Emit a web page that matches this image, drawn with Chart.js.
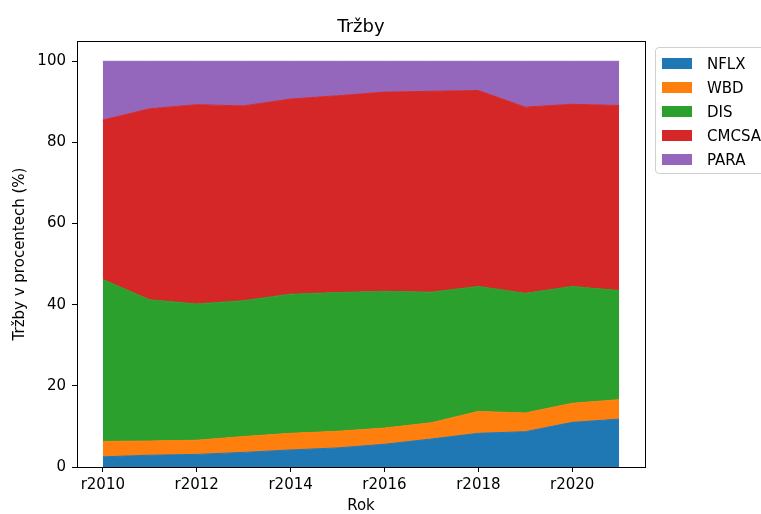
<!DOCTYPE html>
<html>
<head>
<meta charset="utf-8">
<script src="https://cdn.jsdelivr.net/npm/chart.js@4.4.1/dist/chart.umd.min.js"></script>
<style>
  body { margin: 0; background: #fff; overflow: hidden; }
  #wrap { position: relative; width: 761px; height: 514px; overflow: hidden; }
  #legend {
    position: absolute; left: 655px; top: 47px; width: 130px; height: 127px;
    border: 1px solid #d0d0d0; border-radius: 4px; box-sizing: border-box;
    font-family: "DejaVu Sans", sans-serif; font-size: 15px; color: #000;
  }
  .row { position: absolute; left: 0; height: 24px; }
  .sw { position: absolute; left: 6px; width: 30px; height: 11px; }
  .lb { position: absolute; left: 51px; line-height: 16px; white-space: nowrap; }
</style>
</head>
<body>
<div id="wrap">
  <canvas id="AreaChart" width="761" height="514"></canvas>
  <div id="legend"></div>
</div>
<script>
const years = [2010, 2011, 2012, 2013, 2014, 2015, 2016, 2017, 2018, 2019, 2020, 2021];
const names = ["NFLX", "WBD", "DIS", "CMCSA", "PARA"];
const colors = ["#1f77b4", "#ff7f0e", "#2ca02c", "#d62728", "#9467bd"];

// podil na trzbach v %
const nflx  = [2.5, 2.9, 3.1, 3.6, 4.2, 4.7, 5.6, 6.9, 8.3, 8.7, 11.0, 11.8];
const wbd   = [3.8, 3.5, 3.5, 3.9, 4.1, 4.1, 4.0, 4.0, 5.4, 4.6, 4.7, 4.8];
const dis   = [39.9, 34.8, 33.6, 33.5, 34.3, 34.2, 33.7, 32.2, 30.8, 29.5, 28.8, 26.9];
const cmcsa = [39.3, 47.1, 49.1, 48.0, 48.1, 48.5, 49.1, 49.5, 48.3, 45.9, 44.9, 45.6];
const para  = [14.5, 11.7, 10.7, 11.0, 9.3, 8.5, 7.6, 7.4, 7.2, 11.3, 10.6, 10.9];

const xTicks = [2010, 2012, 2014, 2016, 2018, 2020];
const yTicks = [0, 20, 40, 60, 80, 100];

const series = [nflx, wbd, dis, cmcsa, para];
const font = "DejaVu Sans";

const ctx = document.getElementById("AreaChart");

// ramecek kolem grafu + nadpis
const framePlugin = {
  id: "frame",
  afterDraw(chart) {
    const a = chart.chartArea;
    const c = chart.ctx;
    c.save();
    c.strokeStyle = "#000";
    c.lineWidth = 1;
    c.strokeRect(Math.round(a.left) + 0.5, Math.round(a.top) + 0.5,
      Math.round(a.right - a.left), Math.round(a.bottom - a.top));
    c.fillStyle = "#000";
    c.font = "18px '" + font + "'";
    c.textAlign = "center";
    c.textBaseline = "alphabetic";
    c.fillText("Tržby", (a.left + a.right) / 2, 32);
    c.restore();
  }
};

new Chart(ctx, {
  type: "line",
  data: {
    datasets: series.map(function (s, i) {
      return {
        label: names[i],
        data: s.map(function (v, j) { return { x: years[j], y: v }; }),
        backgroundColor: colors[i],
        borderColor: colors[i],
        borderWidth: 1,
        pointRadius: 0,
        tension: 0,
        fill: i === 0 ? "origin" : "-1",
      };
    }),
  },
  options: {
    responsive: false,
    animation: false,
    layout: { padding: { top: 41, right: 116, left: 0, bottom: 0 } },
    plugins: {
      legend: { display: false },
      tooltip: { enabled: false },
    },
    scales: {
      x: {
        type: "linear",
        min: 2009.45,
        max: 2021.55,
        afterBuildTicks: function (scale) {
          scale.ticks = xTicks.map(function (v) { return { value: v }; });
        },
        afterFit: function (scale) { scale.height = 47; },
        ticks: {
          callback: function (v) { return "r" + v; },
          color: "#000",
          font: { family: font, size: 15 },
          padding: 4,
          maxRotation: 0,
        },
        grid: { drawOnChartArea: false, drawTicks: true, tickLength: 5, color: "#000" },
        border: { display: true, color: "#000", width: 1 },
        title: {
          display: true,
          text: "Rok",
          color: "#000",
          font: { family: font, size: 15, lineHeight: 1.0 },
          padding: { top: 0, bottom: 0 },
        },
      },
      y: {
        stacked: true,
        min: 0,
        max: 105,
        afterBuildTicks: function (scale) {
          scale.ticks = yTicks.map(function (v) { return { value: v }; });
        },
        afterFit: function (scale) { scale.width = 77; },
        ticks: {
          color: "#000",
          font: { family: font, size: 15 },
          padding: 6,
        },
        grid: { drawOnChartArea: false, drawTicks: true, tickLength: 5, color: "#000" },
        border: { display: true, color: "#000", width: 1 },
        title: {
          display: true,
          text: "Tržby v procentech (%)",
          color: "#000",
          font: { family: font, size: 15 },
          padding: { top: 11, bottom: 0 },
        },
      },
    },
  },
  plugins: [framePlugin],
});

// legenda
const legend = document.getElementById("legend");
names.forEach(function (n, i) {
  const row = document.createElement("div");
  row.className = "row";
  row.style.top = (8 + i * 24) + "px";
  row.innerHTML = '<div class="sw" style="top:2px;background:' + colors[i] + '"></div>' +
    '<div class="lb" style="top:0">' + n + "</div>";
  legend.appendChild(row);
});
</script>
</body>
</html>
